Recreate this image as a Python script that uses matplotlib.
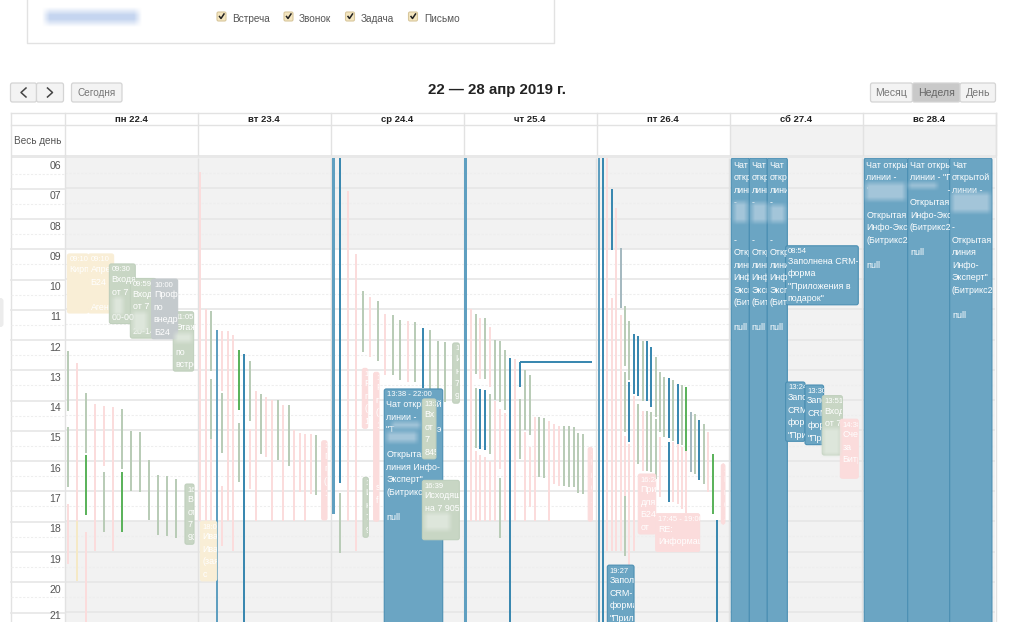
import numpy as np
import matplotlib
matplotlib.use("Agg")
import matplotlib.pyplot as plt
from matplotlib.patches import FancyBboxPatch, Rectangle
from matplotlib.transforms import Bbox, TransformedBbox

plt.rcParams['font.family'] = ['Liberation Sans', 'DejaVu Sans']

W, H = 1023, 622

# calendar text
day_labels = ['пн 22.4', 'вт 23.4', 'ср 24.4', 'чт 25.4', 'пт 26.4', 'сб 27.4', 'вс 28.4']
hour_labels = ['06', '07', '08', '09', '10', '11', '12', '13', '14', '15', '16', '17', '18', '19', '20', '21']
filter_labels = ['Встреча', 'Звонок', 'Задача', 'Письмо']
title = '22 — 28 апр 2019 г.'

# thin events: (day position, start hour, end hour)
pink_bars = [
    (0.020, 17.44, 19.42), (0.088, 12.78, 18.0), (0.156, 18.35, 21.5), (0.223, 14.13, 18.98),
    (0.291, 14.19, 16.17), (0.359, 14.24, 18.98),
    (1.019, 6.46, 18.0), (1.059, 11.0, 18.0), (1.099, 15.29, 18.0), (1.184, 11.71, 13.69),
    (1.184, 16.83, 18.81), (1.224, 11.73, 18.0), (1.264, 11.85, 18.98), (1.392, 14.96, 16.94),
    (1.435, 13.69, 18.0), (1.515, 13.9, 15.88), (1.558, 13.99, 18.0), (1.643, 14.16, 18.0),
    (1.726, 15.0, 18.0), (1.766, 15.07, 17.05), (1.809, 15.11, 18.0), (1.849, 15.12, 17.11),
    (2.130, 7.08, 18.0), (2.188, 9.17, 18.97), (2.298, 10.6, 12.58), (2.411, 11.17, 13.17),
    (2.579, 11.4, 13.39),
    (3.053, 10.99, 18.0), (3.091, 15.69, 18.0), (3.126, 11.29, 13.3), (3.126, 15.81, 18.0),
    (3.164, 15.89, 18.0), (3.201, 11.57, 13.55), (3.201, 16.0, 18.0), (3.236, 14.04, 18.0),
    (3.274, 14.29, 16.27), (3.312, 14.42, 18.0), (3.387, 12.64, 18.0), (3.460, 15.06, 18.0),
    (3.497, 15.56, 17.52), (3.535, 14.54, 18.0), (3.643, 14.7, 18.0), (3.681, 14.79, 16.77),
    (3.716, 14.84, 16.82),
    (4.082, 6.0, 18.97), (4.150, 7.65, 18.97), (4.117, 10.62, 18.97), (4.182, 11.18, 18.97),
    (4.215, 15.17, 17.15), (4.248, 15.45, 21.5), (4.280, 13.87, 18.97), (4.348, 14.35, 16.33),
    (4.478, 15.23, 17.21), (4.579, 15.39, 17.37), (4.611, 15.45, 17.43), (4.644, 15.56, 17.59),
    (4.677, 15.67, 17.73), (4.840, 15.04, 17.02),
]
yellow_bars = [(0.088, 18.0, 19.97)]
sage_bars = [
    (0.020, 12.37, 14.35), (0.020, 14.9, 16.88), (0.156, 13.75, 15.73), (0.291, 16.36, 18.34),
    (0.427, 14.3, 16.28), (0.497, 15.02, 17.0), (0.565, 15.05, 17.03), (0.635, 15.98, 17.96),
    (0.703, 16.47, 18.45), (0.770, 16.52, 18.5), (0.838, 16.59, 18.57),
    (1.099, 11.05, 13.03), (1.099, 13.31, 15.29), (1.184, 13.77, 15.75), (1.307, 14.74, 16.72),
    (1.392, 12.7, 14.68), (1.475, 13.79, 15.77), (1.601, 14.01, 15.99), (1.683, 14.16, 16.17),
    (1.892, 15.16, 17.14),
    (2.072, 17.08, 19.06), (2.243, 10.41, 12.4), (2.353, 10.72, 12.7), (2.466, 11.18, 13.17),
    (2.521, 11.35, 13.33), (2.634, 11.42, 13.4), (2.747, 11.68, 13.66), (2.805, 12.04, 14.03),
    (2.860, 12.07, 14.05),
    (3.091, 11.15, 13.13), (3.091, 13.6, 15.58), (3.164, 11.29, 13.3), (3.201, 13.79, 15.78),
    (3.236, 12.01, 13.99), (3.274, 12.04, 14.05), (3.274, 16.57, 18.55), (3.312, 12.33, 14.31),
    (3.422, 13.96, 15.94), (3.460, 12.99, 14.97), (3.497, 13.16, 15.14), (3.570, 14.54, 16.53),
    (3.605, 14.6, 16.58), (3.753, 14.86, 16.85), (3.791, 14.87, 16.86), (3.828, 14.9, 16.88),
    (3.864, 15.09, 17.08), (3.901, 15.12, 17.1),
    (4.215, 10.88, 12.86), (4.215, 13.08, 15.06), (4.215, 17.18, 19.16), (4.248, 11.37, 13.35),
    (4.313, 14.13, 16.11), (4.348, 12.03, 14.02), (4.381, 14.35, 16.33), (4.413, 14.4, 16.38),
    (4.446, 12.58, 14.57), (4.446, 14.62, 16.6), (4.478, 13.08, 15.06), (4.511, 13.24, 15.23),
    (4.579, 13.35, 15.34), (4.644, 13.49, 15.47), (4.744, 14.46, 16.44), (4.807, 14.79, 16.77),
]
slate_bars = [(4.182, 8.98, 10.96), (4.712, 14.4, 16.38)]
green_bars = [
    (0.156, 15.82, 17.8), (0.427, 16.36, 18.34), (1.307, 12.34, 14.32),
    (4.677, 13.57, 15.67), (4.875, 15.78, 17.76),
]
blue_bars = [
    (1.350, 12.48, 21.5), (2.072, 6.0, 16.75), (2.692, 11.63, 13.61), (3.126, 13.63, 15.61),
    (3.164, 13.65, 15.63), (3.349, 12.62, 21.5), (3.422, 12.75, 13.55), (4.052, 6.0, 21.5),
    (4.117, 7.04, 9.03), (4.248, 13.39, 15.37), (4.280, 11.81, 13.79), (4.313, 11.87, 13.85),
    (4.381, 12.04, 14.03), (4.413, 12.24, 14.22), (4.546, 13.28, 15.26), (4.546, 15.39, 17.37),
    (4.611, 13.46, 15.45), (4.774, 14.64, 16.63), (4.907, 17.96, 21.5),
]
light_blue_bars = [(1.142, 11.68, 21.5), (2.020, 6.0, 17.76), (3.016, 6.0, 21.5), (4.019, 6.0, 21.5)]
# the long flat event on thursday: left day, right day, hour
flat_event = (3.422, 3.969, 12.75)

sat_chat = '\nЧат\nоткрытой\nлинии\n-\n\n\n-\nОткрытая\nлиния\nИнфо-\nЭксперт\n(Битрикс\n\nnull'

# labelled events: (left day, right day, start hour, end hour, text)
blue_boxes = [
    (2.403, 2.843, 13.63, 21.5, '13:38 - 22:00\nЧат открытой\nлинии -\n"Т                 э\n                  -\nОткрытая\nлиния Инфо-\nЭксперт"\n(Битрикс24.Net\n\nnull'),
    (4.082, 4.283, 19.45, 21.5, '19:27\nЗаполнена\nCRM-\nформа\n"Прил'),
    (5.015, 5.151, 6.0, 21.5, sat_chat),
    (5.151, 5.286, 6.0, 21.5, sat_chat),
    (5.286, 5.437, 6.0, 21.5, sat_chat),
    (5.424, 5.971, 8.9, 10.85, '08:54\nЗаполнена CRM-\nформа\n"Приложения в\nподарок"'),
    (5.424, 5.570, 13.4, 15.36, '13:24\nЗаполнена\nCRM-\nформа\n"Прил\nв'),
    (5.570, 5.710, 13.5, 15.47, '13:30\nЗаполнена\nCRM-\nформа\n"Прил\nв'),
    (6.016, 6.343, 6.0, 21.5, '\nЧат открытой\nлинии -\n"\n\nОткрытая\nИнфо-Эксперт\n(Битрикс24\n\nnull'),
    (6.343, 6.659, 6.0, 21.5, '\nЧат открытой\nлинии - "П\n               -\nОткрытая\nИнфо-Эксперт\n(Битрикс24\n\nnull'),
    (6.659, 6.977, 6.0, 21.5, '\nЧат\nоткрытой\nлинии -\n\n\n-\nОткрытая\nлиния\nИнфо-\nЭксперт"\n(Битрикс24\n\nnull'),
]
yellow_boxes = [
    (0.018, 0.176, 9.17, 11.12, '09:10\nКирпичев'),
    (0.176, 0.366, 9.17, 11.12, '09:10\nАпрель\nБ24\n\nАгенство\nнедвиж'),
    (1.019, 1.142, 18.0, 19.97, '18:00\nИван\nИванов\n(заявка\nс\nБ24'),
]
green_boxes = [
    (0.334, 0.529, 9.5, 11.47, '09:30\nВходящий\nот 7\n\n00-00'),
    (0.492, 0.685, 9.98, 11.95, '09:59\nВходящий\nот 7\n\n20-14'),
    (0.815, 0.968, 11.08, 13.04, '11:05\nЭтаж\n\nпо\nвстрече'),
    (0.903, 0.971, 16.77, 18.76, '16\nВ\nот\n7\n93\n20'),
    (2.243, 2.283, 16.55, 18.53, '1\nИ\nн\n7\n9\n9'),
    (2.918, 2.968, 12.11, 14.1, '1:\nИ\nн\n7\n9\n2'),
    (2.690, 2.792, 13.96, 15.94, '13:38\nВх\nот\n7\n845\n25'),
    (2.690, 2.968, 16.65, 18.61, '16:39\nИсходящий\nна 7 905'),
    (5.700, 5.851, 13.85, 15.81, '13:51\nВходящий\nот 7'),
]
grey_boxes = [(0.652, 0.848, 10.0, 11.97, '10:00\nПрофиль\nпо\nвнедрению\nБ24')]
pink_boxes = [
    (1.932, 1.972, 15.34, 17.96, '1\nП\nп\n(\n1'),
    (2.238, 2.278, 12.95, 14.93, '1\nР\nп\n(\n1'),
    (2.323, 2.363, 13.08, 18.0, '1\nР\nп\n(\n1\n\n\n\n\ns\nf'),
    (3.938, 3.970, 15.56, 18.0, '1\nП\nп\n(\n1'),
    (4.315, 4.446, 16.44, 18.42, '16:28\nПриложения\nдля\nБ24\nот\nИнфо'),
    (4.446, 4.777, 17.75, 19.0, '17:45 - 19:00\nRE:\nИнформация\nпро'),
    (4.940, 4.967, 16.11, 18.09, '1\nП\nп\n(\n1'),
    (5.836, 5.971, 14.63, 16.58, '14:38\nСчет\nза\nБитрикс\n\nЛоб'),
]

fig = plt.figure(figsize=(W / 100, H / 100), dpi=100)

# calendar area, x in days, y in hours
cal_left, cal_right, cal_top = 65, 995, 158
ax = fig.add_axes([cal_left / W, 0, (cal_right - cal_left) / W, (H - cal_top) / H])
hour_end = 6 + (H - cal_top) / 30.27
ax.set_xlim(0, 7)
ax.set_ylim(hour_end, 6)
ax.axis('off')

GRID = '#e6e6e6'
OFF = '#f2f2f2'
for d in range(7):
    if d >= 5:
        ax.add_patch(Rectangle((d, 6), 1, hour_end - 6, fc=OFF, ec='none', zorder=0))
    else:
        ax.add_patch(Rectangle((d, 6), 1, 3, fc=OFF, ec='none', zorder=0))
        ax.add_patch(Rectangle((d, 18), 1, hour_end - 18, fc=OFF, ec='none', zorder=0))
for h in range(6, 22):
    if h > 6:
        ax.hlines(h, 0, 7, color=GRID, lw=1.2, zorder=1)
    ax.hlines(h + 0.5, 0, 7, color='#eeeeee', lw=0.8, ls=(0, (2, 1.5)), zorder=1)
ax.vlines(range(1, 7), 6, hour_end, color='#e2e2e2', lw=1, zorder=1)

BAR_W = 2.0 / 132.86


def draw_bars(bars, color, width=BAR_W, z=2):
    xs = [b[0] for b in bars]
    tops = [b[1] for b in bars]
    heights = [b[2] - b[1] for b in bars]
    ax.bar(xs, heights, width=width, bottom=tops, color=color, lw=0, zorder=z)


draw_bars(pink_bars, '#fbdcdc')
draw_bars(yellow_bars, '#f5e9c6')
draw_bars(sage_bars, '#b9ccb7')
draw_bars(slate_bars, '#a5b9c0')
draw_bars(green_bars, '#5cb35c', z=3)
draw_bars(blue_bars, '#3a88b0', z=3)
draw_bars(light_blue_bars, '#5f9fc0', width=2.4 / 132.86, z=3)
ax.bar((flat_event[0] + flat_event[1]) / 2, 0.06, width=flat_event[1] - flat_event[0],
       bottom=flat_event[2] - 0.03, color='#3a88b0', lw=0, zorder=3)


def draw_boxes(boxes, face, edge, z):
    for left, right, start, end, text in boxes:
        patch = FancyBboxPatch((left, start), right - left, end - start,
                               boxstyle='round,pad=0,rounding_size=0.015',
                               mutation_aspect=4.4, fc=face, ec=edge, lw=0.8, zorder=z)
        ax.add_patch(patch)
        # the first line is the time, the rest is the event title
        first, _, rest = text.partition('\n')
        rest_y = -8.0 if first else -2.0
        clip = TransformedBbox(Bbox([[left, start], [right, end]]), ax.transData)
        labels = [ax.annotate(rest, (left, start), xytext=(1.6, rest_y), textcoords='offset points',
                              va='top', ha='left', fontsize=6.4, color='white', linespacing=1.5,
                              zorder=z + 0.1, annotation_clip=False)]
        if first:
            labels.append(ax.annotate(first, (left, start), xytext=(1.8, -1.8), textcoords='offset points',
                                      va='top', ha='left', fontsize=5.5, color='white', zorder=z + 0.1,
                                      annotation_clip=False))
        for t in labels:
            t.set_clip_box(clip)
            t.set_clip_on(True)


draw_boxes(blue_boxes, '#6ba5c3', '#4b8fb3', 4)
draw_boxes(yellow_boxes, '#f9eed6', '#f9eed6', 4.2)
draw_boxes(green_boxes, '#c8d6c4', '#c0d0bd', 4.4)
draw_boxes(grey_boxes, '#c4cacd', '#c4cacd', 4.6)
draw_boxes(pink_boxes, '#fbdcdc', '#fbdcdc', 4.8)

# page furniture is drawn in pixel coordinates
pg = fig.add_axes([0, 0, 1, 1], zorder=5)
pg.set_xlim(0, W)
pg.set_ylim(H, 0)
pg.axis('off')
pg.patch.set_visible(False)

LINE = '#e2e2e2'
TXT = '#555555'


def soft_patch(x0, x1, y0, y1, rgb, edge=3.0):
    xs = np.arange(x0 - 4, x1 + 4) + 0.5
    ys = np.arange(y0 - 4, y1 + 4) + 0.5
    a_x = np.clip((xs - x0 + edge) / (2 * edge), 0, 1) * np.clip((x1 - xs + edge) / (2 * edge), 0, 1)
    a_y = np.clip((ys - y0 + edge) / (2 * edge), 0, 1) * np.clip((y1 - ys + edge) / (2 * edge), 0, 1)
    img = np.zeros((len(ys), len(xs), 4))
    img[..., :3] = matplotlib.colors.to_rgb(rgb)
    img[..., 3] = np.outer(a_y, a_x)
    pg.imshow(img, extent=(x0 - 4, x1 + 4, y1 + 4, y0 - 4), aspect='auto', interpolation='bilinear', zorder=8)


for x0, x1, y0, y1 in [(392, 420, 422, 428), (387, 417, 432, 442), (734, 747, 202, 222), (752, 767, 203, 222),
                       (770, 785, 205, 222), (866, 905, 183, 200), (909, 937, 183, 188), (952, 990, 193, 212)]:
    soft_patch(x0, x1, y0, y1, '#a3c5d9')
for x0, x1, y0, y1 in [(425, 450, 513, 530), (823, 840, 428, 455), (113, 123, 297, 315), (133, 147, 312, 332),
                       (175, 192, 333, 342)]:
    soft_patch(x0, x1, y0, y1, '#dde6db')
soft_patch(46, 138, 11, 23, '#c5d5f0', edge=4)

# filter panel
pg.plot([26.5, 26.5, 553.5, 553.5], [0, 43, 43, 0], color=LINE, lw=1)
box_x = [217, 284, 345.5, 408.5]
text_x = [232, 299, 361, 424]
for bx, tx, lab in zip(box_x, text_x, filter_labels):
    pg.add_patch(FancyBboxPatch((bx, 12), 9, 9, boxstyle='round,pad=0,rounding_size=1.5',
                                fc='#f4e6c0', ec='#d8c79c', lw=0.8))
    pg.plot([bx + 2.5, bx + 4, bx + 7], [16.5, 18.5, 14], color='#222222', lw=1.1)
    pg.text(tx, 18.5, lab, fontsize=7.2, color=TXT, va='center', ha='left')


def button(x0, x1, label, face='#f3f3f3', color='#777777', fs=7.2, weight='normal'):
    pg.add_patch(FancyBboxPatch((x0, 83), x1 - x0, 19, boxstyle='round,pad=0,rounding_size=2',
                                fc=face, ec='#d4d4d4', lw=0.9))
    pg.text((x0 + x1) / 2, 92.8, label, fontsize=fs, color=color, ha='center', va='center', fontweight=weight)


button(10.5, 36.5, '')
button(36.5, 63.5, '')
pg.plot([26, 21, 26], [88, 92.5, 97], color='#444444', lw=1.1)
pg.plot([47.5, 52.5, 47.5], [88, 92.5, 97], color='#444444', lw=1.1)
button(71.5, 122, 'Сегодня')
button(870.5, 912.5, 'Месяц', fs=7.6)
button(912.5, 960, 'Неделя', face='#c9c9c9', color='#666666', fs=7.6)
button(960, 995.5, 'День', fs=7.6)
pg.text(496.5, 90, title, fontsize=10.8, fontweight='bold', color='#222222', ha='center', va='center')

# grid header
col_x = np.linspace(197.5, 995.5, 7)
col_edges = np.concatenate([[64.5], col_x])
pg.add_patch(Rectangle((col_edges[5], 125), col_edges[7] - col_edges[5], 30, fc=OFF, ec='none', zorder=0))
pg.plot([10.5, 995.5], [113, 113], color=LINE, lw=1)
pg.plot([10.5, 995.5], [125, 125], color=LINE, lw=1)
pg.add_patch(Rectangle((10.5, 155), 985, 3, fc='#e8e8e8', ec='none'))
pg.plot([10.5, 10.5], [113, H], color=LINE, lw=1)
pg.plot([995.5, 995.5], [113, H], color=LINE, lw=1)
for x in col_edges:
    pg.plot([x, x], [113, 155], color=LINE, lw=1)
pg.plot([64.5, 64.5], [155, H], color=LINE, lw=1)
for i, lab in enumerate(day_labels):
    pg.text((col_edges[i] + col_edges[i + 1]) / 2, 119.5, lab, fontsize=6.8, fontweight='bold',
            color='#222222', ha='center', va='center')
pg.text(38, 141, 'Весь день', fontsize=7.2, color=TXT, ha='center', va='center')

# hour gutter
for i, lab in enumerate(hour_labels):
    y = 158.5 + 30.27 * i
    if i > 0:
        pg.plot([10.5, 64.5], [y, y], color=GRID, lw=1.2)
    pg.plot([10.5, 64.5], [y + 15, y + 15], color='#eeeeee', lw=0.8, ls=(0, (2, 1.5)))
    if i < 15:
        pg.text(61, y + 7.5, lab, fontsize=7.6, color=TXT, ha='right', va='center')
    else:
        pg.text(61, y + 3, lab, fontsize=7.6, color=TXT, ha='right', va='center')

# scroll handle at the page edge
pg.add_patch(FancyBboxPatch((-4, 298), 7.5, 29, boxstyle='round,pad=0,rounding_size=3', fc='#ececec', ec='none'))

pg.set_xlim(0, W)
pg.set_ylim(H, 0)
fig.savefig('out.png', dpi=100)
